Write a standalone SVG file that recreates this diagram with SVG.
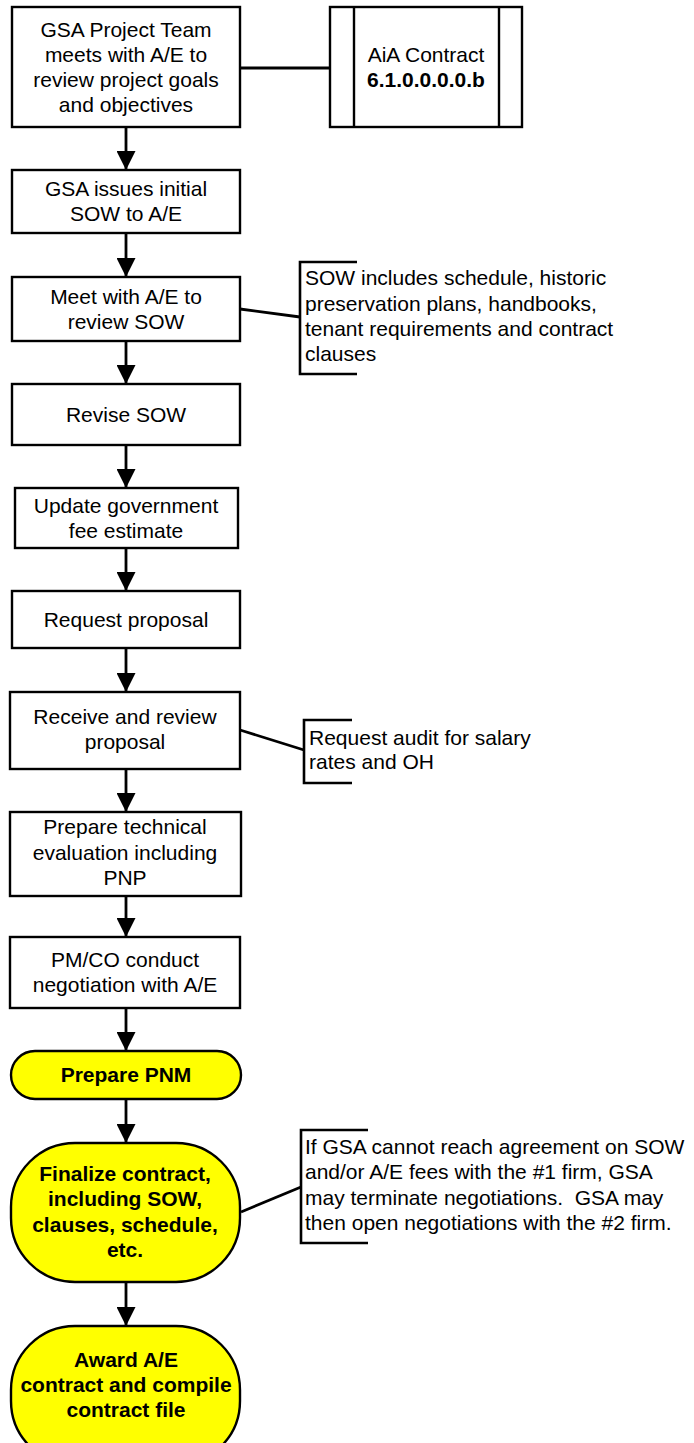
<svg xmlns="http://www.w3.org/2000/svg" width="694" height="1443" viewBox="0 0 694 1443">
<style>
.box{fill:#fff;stroke:#000;stroke-width:2.4}
.term{fill:#ffff00;stroke:#000;stroke-width:2.4}
.ln{fill:none;stroke:#000;stroke-width:2.8}
.br{fill:none;stroke:#000;stroke-width:2.6}
text{font-family:"Liberation Sans",Arial,sans-serif;font-size:21px;fill:#000}
.c{text-anchor:middle}
.b{font-weight:bold}
.pre{white-space:pre}
</style>
<defs>
<marker id="ah" markerUnits="userSpaceOnUse" markerWidth="19" markerHeight="19" refX="19" refY="9.5" orient="auto">
<path d="M0,0 L19,9.5 L0,19 z" fill="#000"/>
</marker>
</defs>
<rect width="694" height="1443" fill="#fff"/>
<g id="connectors">
<line class="ln" x1="126" y1="127" x2="126" y2="170" marker-end="url(#ah)"/>
<line class="ln" x1="126" y1="233" x2="126" y2="277" marker-end="url(#ah)"/>
<line class="ln" x1="126" y1="341" x2="126" y2="384" marker-end="url(#ah)"/>
<line class="ln" x1="126" y1="445" x2="126" y2="488" marker-end="url(#ah)"/>
<line class="ln" x1="126" y1="548" x2="126" y2="591" marker-end="url(#ah)"/>
<line class="ln" x1="126" y1="648" x2="126" y2="692" marker-end="url(#ah)"/>
<line class="ln" x1="126" y1="769" x2="126" y2="812" marker-end="url(#ah)"/>
<line class="ln" x1="126" y1="896" x2="126" y2="937" marker-end="url(#ah)"/>
<line class="ln" x1="126" y1="1008" x2="126" y2="1051" marker-end="url(#ah)"/>
<line class="ln" x1="126" y1="1099" x2="126" y2="1143" marker-end="url(#ah)"/>
<line class="ln" x1="126" y1="1282" x2="126" y2="1326" marker-end="url(#ah)"/>
<line class="ln" x1="240" y1="68" x2="330" y2="68"/>
<line class="ln" x1="240" y1="309" x2="300" y2="317"/>
<line class="ln" x1="240" y1="730" x2="304" y2="750"/>
<line class="ln" x1="241" y1="1212" x2="301" y2="1187"/>
</g>
<g id="n1">
<rect class="box" x="12" y="7" width="228" height="120"/>
<text class="c" x="126" y="37">GSA Project Team</text>
<text class="c" x="126" y="62">meets with A/E to</text>
<text class="c" x="126" y="87">review project goals</text>
<text class="c" x="126" y="112">and objectives</text>
</g>
<g id="aia">
<rect class="box" x="330" y="7" width="192" height="120"/>
<line class="box" x1="354" y1="7" x2="354" y2="127"/>
<line class="box" x1="499" y1="7" x2="499" y2="127"/>
<text class="c" x="426" y="62">AiA Contract</text>
<text class="c b" x="426" y="87">6.1.0.0.0.0.b</text>
</g>
<g id="n2">
<rect class="box" x="12" y="170" width="228" height="63"/>
<text class="c" x="126" y="196">GSA issues initial</text>
<text class="c" x="126" y="221">SOW to A/E</text>
</g>
<g id="n3">
<rect class="box" x="12" y="277" width="228" height="64"/>
<text class="c" x="126" y="304">Meet with A/E to</text>
<text class="c" x="126" y="329">review SOW</text>
</g>
<g id="note1">
<path class="br" d="M357,262 H300 V374 H357"/>
<text x="305" y="285">SOW includes schedule, historic</text>
<text x="305" y="311">preservation plans, handbooks,</text>
<text x="305" y="336">tenant requirements and contract</text>
<text x="305" y="361">clauses</text>
</g>
<g id="n4">
<rect class="box" x="12" y="384" width="228" height="61"/>
<text class="c" x="126" y="422">Revise SOW</text>
</g>
<g id="n5">
<rect class="box" x="15" y="488" width="223" height="60"/>
<text class="c" x="126" y="513">Update government</text>
<text class="c" x="126" y="538">fee estimate</text>
</g>
<g id="n6">
<rect class="box" x="12" y="591" width="228" height="57"/>
<text class="c" x="126" y="627">Request proposal</text>
</g>
<g id="n7">
<rect class="box" x="10" y="692" width="230" height="77"/>
<text class="c" x="125" y="724">Receive and review</text>
<text class="c" x="125" y="749">proposal</text>
</g>
<g id="note2">
<path class="br" d="M352,720 H304 V783 H352"/>
<text x="309" y="745">Request audit for salary</text>
<text x="309" y="769">rates and OH</text>
</g>
<g id="n8">
<rect class="box" x="10" y="812" width="231" height="84"/>
<text class="c" x="125" y="834">Prepare technical</text>
<text class="c" x="125" y="860">evaluation including</text>
<text class="c" x="125" y="885">PNP</text>
</g>
<g id="n9">
<rect class="box" x="10" y="937" width="230" height="71"/>
<text class="c" x="125" y="967">PM/CO conduct</text>
<text class="c" x="125" y="992">negotiation with A/E</text>
</g>
<g id="n10">
<rect class="term" x="11" y="1051" width="230" height="48" rx="24" ry="24"/>
<text class="c b" x="126" y="1082">Prepare PNM</text>
</g>
<g id="n11">
<rect class="term" x="11" y="1143" width="229" height="139" rx="64" ry="64"/>
<text class="c b" x="125" y="1181">Finalize contract,</text>
<text class="c b" x="125" y="1206">including SOW,</text>
<text class="c b" x="125" y="1232">clauses, schedule,</text>
<text class="c b" x="125" y="1257">etc.</text>
</g>
<g id="note3">
<path class="br" d="M368,1130 H301 V1243 H368"/>
<text x="305" y="1154">If GSA cannot reach agreement on SOW</text>
<text x="305" y="1179">and/or A/E fees with the #1 firm, GSA</text>
<text class="pre" x="305" y="1205">may terminate negotiations.  GSA may</text>
<text x="305" y="1230">then open negotiations with the #2 firm.</text>
</g>
<g id="n12">
<rect class="term" x="11" y="1326" width="229" height="139" rx="64" ry="64"/>
<text class="c b" x="126" y="1367">Award A/E</text>
<text class="c b" x="126" y="1392">contract and compile</text>
<text class="c b" x="126" y="1417">contract file</text>
</g>
</svg>
